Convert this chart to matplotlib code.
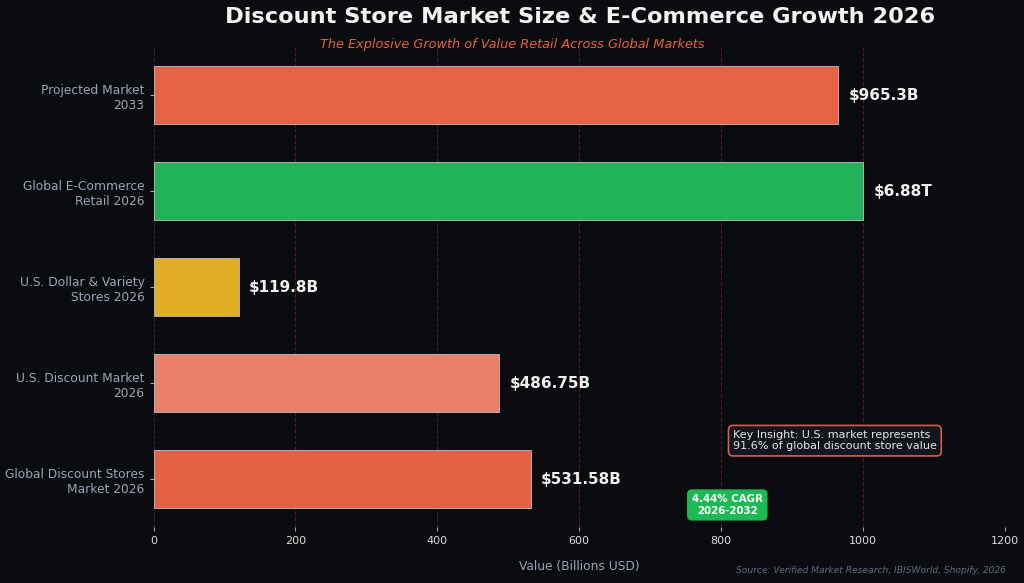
import matplotlib.pyplot as plt
import numpy as np

# data, bottom to top
categories = ['Global Discount Stores\nMarket 2026', 'U.S. Discount Market\n2026',
              'U.S. Dollar & Variety\nStores 2026', 'Global E-Commerce\nRetail 2026',
              'Projected Market\n2033']
values = [531.58, 486.75, 119.8, 1000, 965.3]  # e-commerce capped for display
value_labels = ['$531.58B', '$486.75B', '$119.8B', '$6.88T', '$965.3B']
colors = ['#E56045', '#E8806A', '#E0AD25', '#22B35A', '#E66246']

bg = '#0b0c10'
fig = plt.figure(figsize=(10.24, 5.83), dpi=100, facecolor=bg)
ax = fig.add_axes([0.150, 0.096, 0.831, 0.823])
ax.set_facecolor(bg)

y = np.arange(len(categories))
ax.barh(y, values, height=0.6, color=colors, edgecolor='#b0b0b0', linewidth=0.7, zorder=3)

for yi, v, lab in zip(y, values, value_labels):
    ax.text(v + 15, yi, lab, va='center', ha='left', color='#f0f0f0',
            fontsize=11, fontweight='bold', zorder=4)

ax.set_xlim(0, 1200)
ax.set_ylim(-0.5, 4.5)
ax.set_yticks(y)
ax.set_yticklabels(categories, color='#9aa5b8', fontsize=8.8)
ax.set_xticks([0, 200, 400, 600, 800, 1000, 1200])
ax.tick_params(axis='x', colors='#9aa5b8', labelcolor='#dddddd', labelsize=8, length=3)
ax.tick_params(axis='y', colors='#9aa5b8', length=3)
for s in ax.spines.values():
    s.set_visible(False)
ax.grid(axis='x', color='#6e2424', linestyle='--', linewidth=0.8, alpha=0.7, zorder=0)
ax.set_xlabel('Value (Billions USD)', color='#9aa5b8', fontsize=8.8, labelpad=10)

# title and subtitle
fig.text(0.566, 0.971, 'Discount Store Market Size & E-Commerce Growth 2026',
         ha='center', va='center', color='#f2f2f2', fontsize=16.2, fontweight='bold')
fig.text(0.500, 0.923, 'The Explosive Growth of Value Retail Across Global Markets',
         ha='center', va='center', color='#E8613F', fontsize=9.3, style='italic')

# annotations
ax.text(817, 0.40, 'Key Insight: U.S. market represents\n91.6% of global discount store value',
        ha='left', va='center', color='#e6e6e6', fontsize=8, zorder=5,
        bbox=dict(boxstyle='round,pad=0.4', facecolor='#14161d', edgecolor='#d2604a', linewidth=1.2))
ax.text(809, -0.27, '4.44% CAGR\n2026-2032', ha='center', va='center', color='white',
        fontsize=7.4, fontweight='bold', zorder=5,
        bbox=dict(boxstyle='round,pad=0.4', facecolor='#1db954', edgecolor='#1db954'))

fig.text(0.982, 0.022, 'Source: Verified Market Research, IBISWorld, Shopify, 2026',
         ha='right', va='center', color='#5f6b80', fontsize=6.6, style='italic')

fig.savefig('out.png', dpi=100, facecolor=bg)
